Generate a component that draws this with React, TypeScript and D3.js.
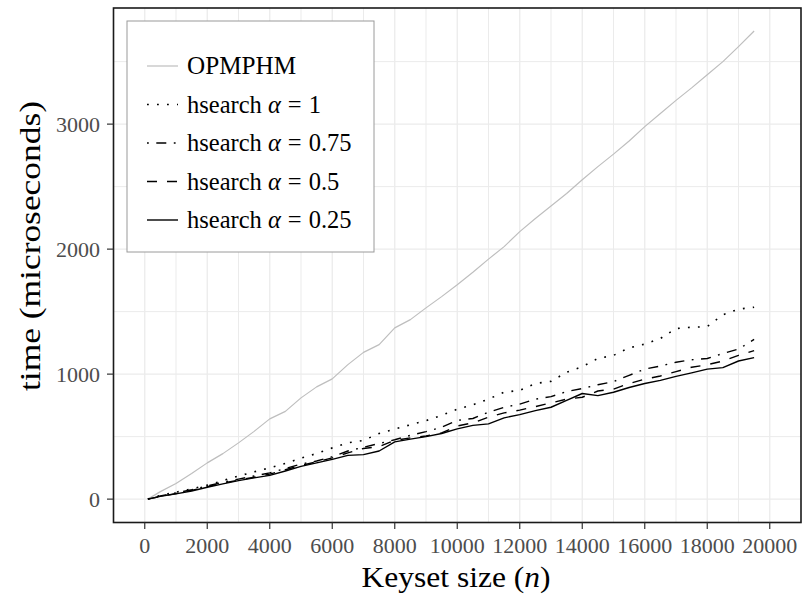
import React from 'react';
import * as d3 from 'd3';

const keysetSizes = [100, 500, 1000, 1500, 2000, 2500, 3000, 3500, 4000, 4500, 5000, 5500, 6000, 6500, 7000, 7500, 8000, 8500, 9000, 9500, 10000, 10500, 11000, 11500, 12000, 12500, 13000, 13500, 14000, 14500, 15000, 15500, 16000, 16500, 17000, 17500, 18000, 18500, 19000, 19500];
const opmphm = [0, 60, 125, 205, 290, 364, 450, 542, 642, 702, 810, 898, 962, 1076, 1174, 1236, 1370, 1436, 1530, 1620, 1715, 1815, 1920, 2020, 2140, 2245, 2345, 2445, 2555, 2660, 2760, 2865, 2980, 3085, 3190, 3290, 3395, 3500, 3620, 3745];
const hsearch1 = [0, 30, 55, 82, 112, 148, 185, 218, 250, 285, 328, 365, 410, 450, 470, 525, 560, 595, 628, 670, 720, 755, 800, 855, 870, 925, 942, 1015, 1060, 1125, 1150, 1210, 1240, 1285, 1365, 1375, 1380, 1475, 1520, 1535];
const hsearch075 = [0, 25, 50, 75, 105, 135, 160, 185, 210, 245, 280, 305, 340, 385, 415, 445, 475, 510, 540, 575, 630, 645, 695, 735, 760, 800, 820, 860, 885, 915, 940, 990, 1040, 1065, 1095, 1115, 1125, 1165, 1200, 1278];
const hsearch05 = [0, 22, 45, 70, 100, 128, 152, 175, 200, 235, 270, 298, 330, 370, 405, 420, 470, 490, 505, 530, 585, 610, 655, 690, 712, 740, 770, 800, 815, 865, 880, 925, 960, 985, 1020, 1055, 1075, 1105, 1150, 1188];
const hsearch025 = [0, 22, 42, 65, 95, 122, 148, 170, 190, 225, 262, 290, 318, 350, 356, 385, 458, 480, 500, 525, 562, 590, 602, 650, 676, 708, 735, 790, 845, 828, 855, 893, 925, 950, 982, 1010, 1040, 1052, 1105, 1132];

const xTicks = [0, 2000, 4000, 6000, 8000, 10000, 12000, 14000, 16000, 18000, 20000];
const xMinor = [1000, 3000, 5000, 7000, 9000, 11000, 13000, 15000, 17000, 19000];
const yTicks = [0, 1000, 2000, 3000];
const yMinor = [500, 1500, 2500, 3500];

const seriesNames = ['OPMPHM', '1', '0.75', '0.5', '0.25'];

const FONT = '"Liberation Serif", "DejaVu Serif", serif';

export default function App() {
  const W = 803, H = 598;
  const left = 113.5, right = 801, top = 8, bottom = 522.5;
  const x = d3.scaleLinear().domain([-1000, 21000]).range([left, right]);
  const y = d3.scaleLinear().domain([-187, 3929]).range([bottom, top]);

  const series = [
    { name: seriesNames[0], values: opmphm, color: '#bebebe', dash: null, width: 1.2 },
    { name: seriesNames[1], values: hsearch1, color: '#000', dash: '1.8 8.2', width: 1.6 },
    { name: seriesNames[2], values: hsearch075, color: '#000', dash: '1.8 7.5 10 7.5', width: 1.4 },
    { name: seriesNames[3], values: hsearch05, color: '#000', dash: '10 10', width: 1.4 },
    { name: seriesNames[4], values: hsearch025, color: '#000', dash: null, width: 1.4 },
  ];

  const line = d3.line<number>()
    .x((_, i) => x(keysetSizes[i]))
    .y((d) => y(d));

  const legendX = 127, legendY = 21, legendW = 247, legendH = 231;
  const rowY = [66, 104.5, 143, 181.5, 220];

  return (
    <svg width={W} height={H} style={{ position: 'absolute', left: 0, top: 0, background: '#fff' }} fontFamily={FONT}>
      <rect x={0} y={0} width={W} height={H} fill="#fff" />
      <rect x={left} y={top} width={right - left} height={bottom - top} fill="#fff" />
      {xMinor.map((t) => (
        <line key={'xm' + t} x1={x(t)} x2={x(t)} y1={top} y2={bottom} stroke="#ebebeb" strokeWidth={1} />
      ))}
      {yMinor.map((t) => (
        <line key={'ym' + t} x1={left} x2={right} y1={y(t)} y2={y(t)} stroke="#ebebeb" strokeWidth={1} />
      ))}
      {xTicks.map((t) => (
        <line key={'xg' + t} x1={x(t)} x2={x(t)} y1={top} y2={bottom} stroke="#ebebeb" strokeWidth={1.3} />
      ))}
      {yTicks.map((t) => (
        <line key={'yg' + t} x1={left} x2={right} y1={y(t)} y2={y(t)} stroke="#ebebeb" strokeWidth={1.3} />
      ))}
      {series.map((s) => (
        <path key={s.name} d={line(s.values) || ''} fill="none" stroke={s.color} strokeWidth={s.width}
          strokeDasharray={s.dash || undefined} strokeLinejoin="round" />
      ))}
      <rect x={left} y={top} width={right - left} height={bottom - top} fill="none" stroke="#1a1a1a" strokeWidth={1.6} />

      {/* legend */}
      <rect x={legendX} y={legendY} width={legendW} height={legendH} fill="#fff" stroke="#9a9a9a" strokeWidth={1} />
      {series.map((s, i) => (
        <g key={'lg' + s.name}>
          <line x1={147} x2={178} y1={rowY[i]} y2={rowY[i]} stroke={s.color} strokeWidth={s.width}
            strokeDasharray={s.dash || undefined} />
          {i === 0 ? (
            <text x={187} y={rowY[i] + 8} fontSize={25} fill="#000" textLength={109} lengthAdjust="spacingAndGlyphs">{s.name}</text>
          ) : (
            <text x={187} y={rowY[i] + 8} fontSize={24.5} fill="#000">
              <tspan>hsearch </tspan>
              <tspan fontStyle="italic">α</tspan>
              <tspan dx={7}>=</tspan>
              <tspan dx={7}>{s.name}</tspan>
            </text>
          )}
        </g>
      ))}

      {/* x axis */}
      {xTicks.map((t) => (
        <g key={'xt' + t}>
          <line x1={x(t)} x2={x(t)} y1={bottom} y2={bottom + 6.5} stroke="#333" strokeWidth={1.2} />
          <text x={x(t)} y={553} textAnchor="middle" fontSize={22} fill="#4d4d4d">{t}</text>
        </g>
      ))}
      {yTicks.map((t) => (
        <g key={'yt' + t}>
          <line x1={left - 6.5} x2={left} y1={y(t)} y2={y(t)} stroke="#333" strokeWidth={1.2} />
          <text x={100} y={y(t) + 7.5} textAnchor="end" fontSize={22} fill="#4d4d4d">{t}</text>
        </g>
      ))}
      <text x={456} y={587} textAnchor="middle" fontSize={29.5} fill="#000" textLength={189} lengthAdjust="spacingAndGlyphs">
        <tspan>Keyset size (</tspan>
        <tspan fontStyle="italic">n</tspan>
        <tspan>)</tspan>
      </text>
      <text transform={`translate(40, 246) rotate(-90)`} textAnchor="middle" fontSize={28.5} fill="#000" textLength={290} lengthAdjust="spacingAndGlyphs">
        time (microseconds)
      </text>
    </svg>
  );
}
